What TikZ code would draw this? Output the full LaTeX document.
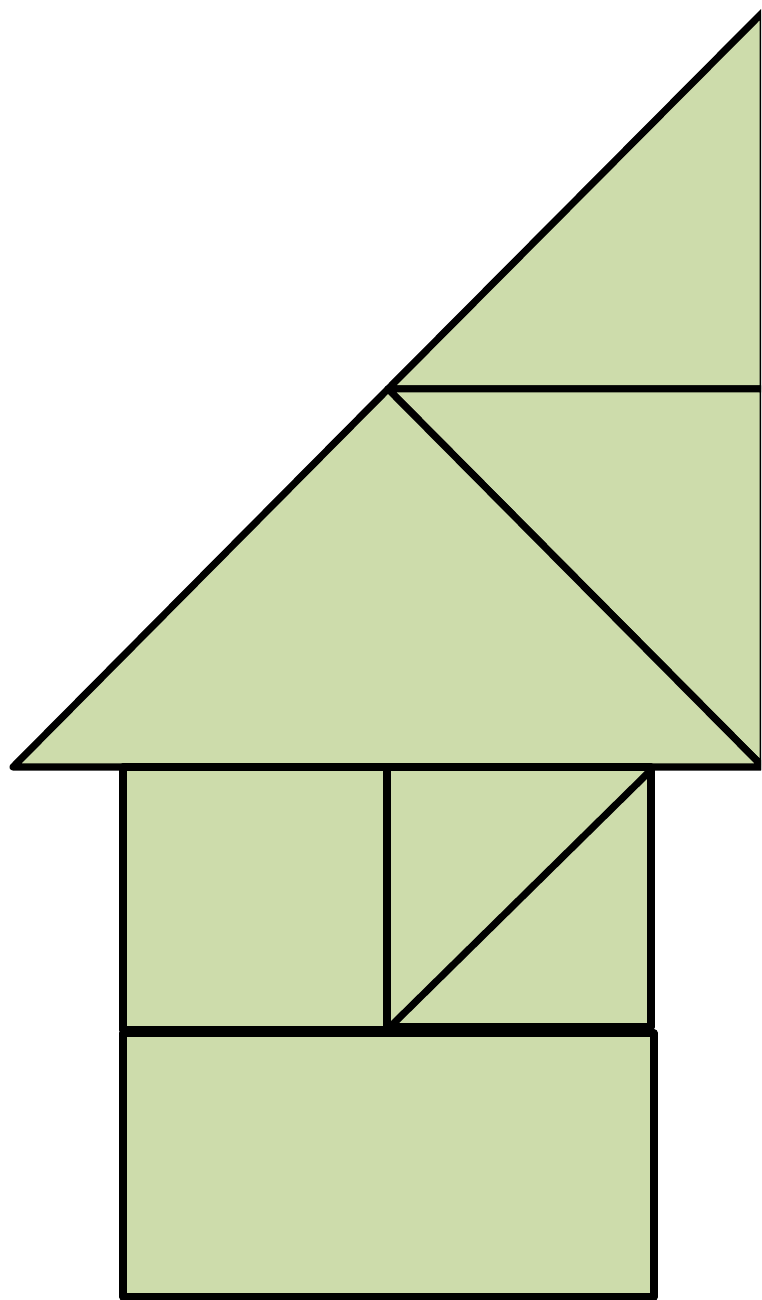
\documentclass[tikz,border=0pt]{standalone}
\usepackage{tikz}
\usetikzlibrary{calc}
\definecolor{PieceGreen}{HTML}{CDDCAB}
\definecolor{EdgeBlack}{HTML}{000000}

\begin{document}
\begin{tikzpicture}[
    piece/.style={fill=PieceGreen, draw=EdgeBlack, line width=2pt, line join=round},
    cut/.style={draw=EdgeBlack, line width=2pt, line cap=round}
]
    \useasboundingbox (0,0) rectangle (7.61,13.00);
    \clip (0,0) rectangle (7.61,13.00);

    % corner points of the pieces
    \coordinate (Apex) at (7.63,12.88);
    \coordinate (RoofMid) at (3.88,9.11);
    \coordinate (RightMid) at (7.63,9.11);
    \coordinate (EaveL) at (0.13,5.33);
    \coordinate (EaveR) at (7.63,5.33);

    % roof
    \draw[piece] (RoofMid) -- (Apex) -- (RightMid) -- cycle;
    \draw[piece] (RoofMid) -- (RightMid) -- (EaveR) -- cycle;
    \draw[piece] (EaveL) -- (RoofMid) -- (EaveR) -- cycle;

    % walls
    \draw[piece] (1.23,2.70) rectangle (3.87,5.33);
    \draw[piece] (3.87,2.73) rectangle (6.51,5.33);
    \coordinate (DiagLow) at (3.90,2.73);
    \coordinate (DiagHigh) at (6.51,5.30);
    \draw[cut] (DiagLow) -- (DiagHigh);

    % base
    \draw[piece] (1.23,0.03) rectangle (6.54,2.67);
\end{tikzpicture}
\end{document}
